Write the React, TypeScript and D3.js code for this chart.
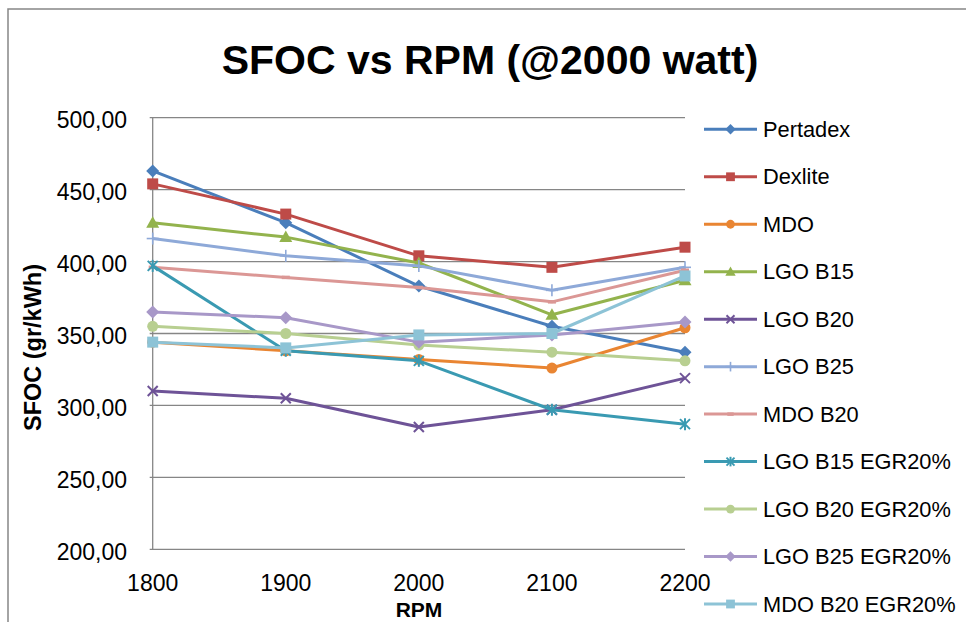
import React from 'react';
import * as d3 from 'd3';

const rpm = [1800, 1900, 2000, 2100, 2200];
const pertadex = [463, 427, 383, 355, 337];
const dexlite = [454, 433, 404, 396, 410];
const mdo = [344, 338, 332, 326, 354];
const lgoB15 = [427, 417, 399, 363, 387];
const lgoB20 = [310, 305, 285, 297, 319];
const lgoB25 = [416, 404, 397, 380, 396];
const mdoB20 = [396, 389, 382, 372, 394];
const lgoB15Egr = [397, 338, 331, 297, 287];
const lgoB20Egr = [355, 350, 342, 337, 331];
const lgoB25Egr = [365, 361, 344, 349, 358];
const mdoB20Egr = [344, 340, 349, 350, 390];

const seriesNames = [
  'Pertadex', 'Dexlite', 'MDO', 'LGO B15', 'LGO B20', 'LGO B25', 'MDO B20',
  'LGO B15 EGR20%', 'LGO B20 EGR20%', 'LGO B25 EGR20%', 'MDO B20 EGR20%',
];
const seriesValues = [
  pertadex, dexlite, mdo, lgoB15, lgoB20, lgoB25, mdoB20,
  lgoB15Egr, lgoB20Egr, lgoB25Egr, mdoB20Egr,
];
const colors = [
  '#4A7EBB', '#BE4B48', '#E98532', '#93B34D', '#6E5397', '#8EA9D8', '#DB9795',
  '#3A9AB2', '#B8CF91', '#A898C8', '#8DC3D6',
];
const markers = [
  'diamond', 'square', 'circle', 'triangle', 'x', 'plus', 'dash',
  'star', 'circle', 'diamond', 'square',
];
const yTicks = [200, 250, 300, 350, 400, 450, 500];
const xTicks = [1800, 1900, 2000, 2100, 2200];

const FONT = '"Liberation Sans", Arial, sans-serif';

function Marker({ type, cx, cy, color, s = 1 }: { type: string; cx: number; cy: number; color: string; s?: number }) {
  const r = 6.5 * s;
  switch (type) {
    case 'diamond':
      return <path d={`M${cx},${cy - r}L${cx + r},${cy}L${cx},${cy + r}L${cx - r},${cy}Z`} fill={color} />;
    case 'square':
      return <rect x={cx - 5.5 * s} y={cy - 5.5 * s} width={11 * s} height={11 * s} fill={color} />;
    case 'circle':
      return <circle cx={cx} cy={cy} r={5.5 * s} fill={color} />;
    case 'triangle':
      return <path d={`M${cx},${cy - r}L${cx + r},${cy + 5 * s}L${cx - r},${cy + 5 * s}Z`} fill={color} />;
    case 'x':
      return (
        <g stroke={color} strokeWidth={2}>
          <line x1={cx - 5 * s} y1={cy - 5 * s} x2={cx + 5 * s} y2={cy + 5 * s} />
          <line x1={cx - 5 * s} y1={cy + 5 * s} x2={cx + 5 * s} y2={cy - 5 * s} />
        </g>
      );
    case 'plus':
      return (
        <g stroke={color} strokeWidth={1.6}>
          <line x1={cx - 6 * s} y1={cy} x2={cx + 6 * s} y2={cy} />
          <line x1={cx} y1={cy - 6 * s} x2={cx} y2={cy + 6 * s} />
        </g>
      );
    case 'dash':
      return <line x1={cx - 4 * s} y1={cy} x2={cx + 4 * s} y2={cy} stroke={color} strokeWidth={3.5} />;
    case 'star':
      return (
        <g stroke={color} strokeWidth={2}>
          <line x1={cx - 5 * s} y1={cy - 5 * s} x2={cx + 5 * s} y2={cy + 5 * s} />
          <line x1={cx - 5 * s} y1={cy + 5 * s} x2={cx + 5 * s} y2={cy - 5 * s} />
          <line x1={cx} y1={cy - 6 * s} x2={cx} y2={cy + 6 * s} />
        </g>
      );
    default:
      return null;
  }
}

export default function App() {
  const W = 966;
  const H = 622;
  const x = d3.scaleLinear().domain([1800, 2200]).range([152.7, 685]);
  const y = d3.scaleLinear().domain([200, 500]).range([549.3, 117.7]);
  const line = d3
    .line<number>()
    .x((_, i) => x(rpm[i]))
    .y((d) => y(d));
  const fmt = (v: number) => d3.format('.2f')(v).replace('.', ',');

  const legendX0 = 704;
  const legendX1 = 757;
  const legendY = d3.scaleLinear().domain([0, 10]).range([129.3, 604]);

  return (
    <svg width={W} height={H} style={{ position: 'absolute', left: 0, top: 0, background: '#fff' }} fontFamily={FONT}>
      <rect x={0} y={0} width={W} height={H} fill="#fff" />
      <rect x={8} y={9} width={W + 20} height={H + 20} fill="none" stroke="#868686" strokeWidth={1.5} />

      <text x={490} y={74} textAnchor="middle" fontSize={41} fontWeight="bold" fill="#000">
        SFOC vs RPM (@2000 watt)
      </text>

      {/* gridlines */}
      {yTicks.map((t) => (
        <line key={t} x1={x(1800) - 3} x2={x(2200)} y1={y(t)} y2={y(t)} stroke="#868686" strokeWidth={1.3} />
      ))}
      <line x1={x(1800)} x2={x(1800)} y1={y(500)} y2={y(200)} stroke="#868686" strokeWidth={1.3} />

      {yTicks.map((t) => (
        <text key={t} x={127} y={y(t) + 10.3} textAnchor="end" fontSize={23} fill="#000">
          {fmt(t)}
        </text>
      ))}
      {xTicks.map((t) => (
        <text key={t} x={x(t)} y={591} textAnchor="middle" fontSize={23} fill="#000">
          {t}
        </text>
      ))}
      <text x={419} y={617} textAnchor="middle" fontSize={21} fontWeight="bold" fill="#000">
        RPM
      </text>
      <text
        transform={`translate(41,347.5) rotate(-90)`}
        textAnchor="middle"
        fontSize={23.5}
        fontWeight="bold"
        fill="#000"
      >
        SFOC (gr/kWh)
      </text>

      {/* series */}
      {seriesValues.map((vals, si) => (
        <g key={seriesNames[si]}>
          <path d={line(vals) || ''} fill="none" stroke={colors[si]} strokeWidth={3} strokeLinejoin="round" />
          {vals.map((v, i) => (
            <Marker key={i} type={markers[si]} cx={x(rpm[i])} cy={y(v)} color={colors[si]} />
          ))}
        </g>
      ))}

      {/* legend */}
      {seriesNames.map((name, si) => {
        const ly = legendY(si);
        return (
          <g key={name}>
            <line x1={legendX0} x2={legendX1} y1={ly} y2={ly} stroke={colors[si]} strokeWidth={3} />
            <Marker type={markers[si]} cx={(legendX0 + legendX1) / 2} cy={ly} color={colors[si]} s={0.8} />
            <text x={763} y={ly + 7.5} fontSize={21.8} fill="#000">
              {name}
            </text>
          </g>
        );
      })}
    </svg>
  );
}
